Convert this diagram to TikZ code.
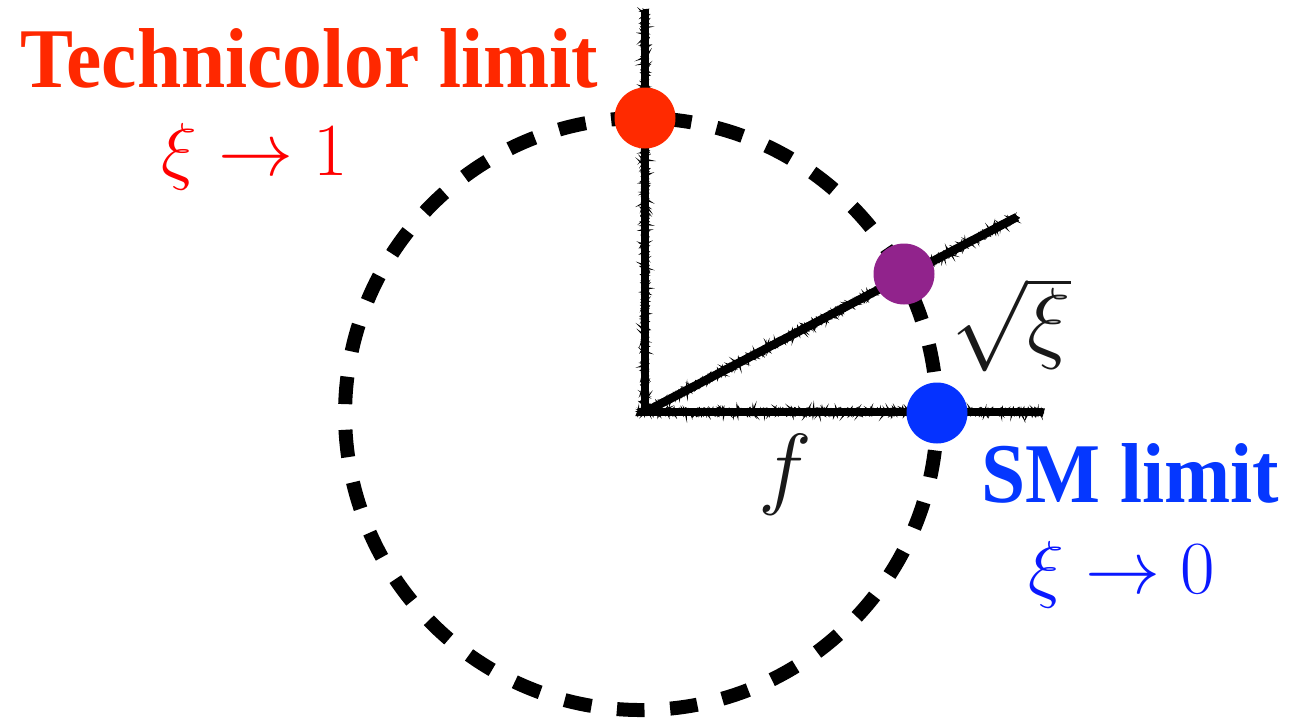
\RequirePackage{fix-cm}
\documentclass[tikz,border=0pt]{standalone}
\usepackage[no-math]{fontspec}
\newfontfamily\tnr{Liberation Serif}[FakeStretch=0.935]
\usetikzlibrary{decorations.pathmorphing}
\definecolor{tcred}{RGB}{255,40,0}
\definecolor{mred}{RGB}{255,0,0}
\definecolor{smblue}{RGB}{5,55,255}
\definecolor{mblue}{RGB}{10,25,255}
\definecolor{dotred}{RGB}{255,42,0}
\definecolor{dotblue}{RGB}{5,50,255}
\definecolor{dotpurple}{RGB}{145,35,140}
\definecolor{ink}{RGB}{25,25,25}
\tikzset{
  dashcircle/.style={line width=14pt, dash pattern=on 27.5pt off 25.64pt},
  axiscore/.style={line width=8.5pt, black},
  axisrough/.style={line width=1.8pt, black, decorate,
    decoration={random steps, segment length=1.4pt, amplitude=3.2pt}},
  dot/.style={circle, inner sep=0pt, minimum size=61pt},
  biglabel/.style={anchor=base, inner sep=0pt, font=\tnr\bfseries\fontsize{85}{100}\selectfont},
  mathlabel/.style={anchor=base, inner sep=0pt, font=\fontsize{75}{90}\selectfont},
  axlabel/.style={anchor=base, inner sep=0pt, text=ink, font=\fontsize{91}{100}\selectfont}
}
\begin{document}
\begin{tikzpicture}[x=1pt,y=-1pt]
\useasboundingbox (0,0) rectangle (1291,720);
% dashed circle
\coordinate (C) at (641,414);
\draw[dashcircle] (644.4,710) arc[start angle=89.35, end angle=449.35, radius=296];
% axes
\coordinate (O) at (645,412);
\coordinate (Ytop) at (645,10);
\coordinate (Xend) at (1043,412);
\coordinate (Dend) at (1017,217);
\coordinate (Xstart) at (638,412);
\foreach \p in {1,...,6}{
  \draw[axisrough] (O) -- (Ytop);
  \draw[axisrough] (Xstart) -- (Xend);
  \draw[axisrough] (O) -- (Dend);
}
\draw[axiscore] (645,415) -- (Ytop);
\draw[axiscore] (Xstart) -- (Xend);
\draw[axiscore] (O) -- (Dend);
% dots
\node[dot, fill=dotred] (red) at (645,118) {};
\node[dot, fill=dotpurple] (purple) at (904,274) {};
\node[dot, fill=dotblue] (blue) at (937,413) {};
% labels
\node[biglabel, text=tcred] (tc) at (309.5,87) {Technicolor limit};
\node[mathlabel, text=mred] (tcxi) at (255,175) {$\xi\rightarrow 1$};
\node[biglabel, text=smblue] (sm) at (1130,502) {SM limit};
\node[mathlabel, text=mblue] (smxi) at (1122,593) {$\xi\rightarrow 0$};
\node[axlabel] (sqrt) at (1011,351) {$\sqrt{\xi}$};
\node[axlabel] (f) at (785,497) {$f$};
\end{tikzpicture}
\end{document}
